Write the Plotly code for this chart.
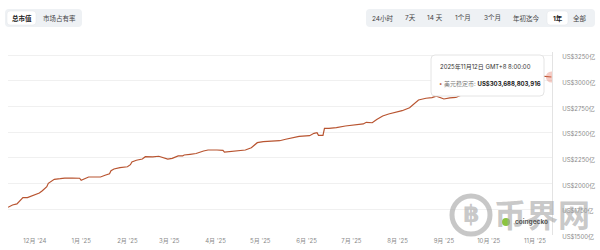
import plotly.graph_objects as go

# ---- data (market cap in 亿 USD) ----
dates = [
    "2024-11-13", "2024-11-16", "2024-11-19", "2024-11-21", "2024-11-23", "2024-11-26",
    "2024-11-29", "2024-12-02", "2024-12-04", "2024-12-06", "2024-12-09", "2024-12-10",
    "2024-12-12", "2024-12-14", "2024-12-18", "2024-12-21", "2024-12-26", "2024-12-31",
    "2025-01-01", "2025-01-04", "2025-01-06", "2025-01-09", "2025-01-14", "2025-01-17",
    "2025-01-20", "2025-01-21", "2025-01-23", "2025-01-27", "2025-02-01", "2025-02-03",
    "2025-02-04", "2025-02-07", "2025-02-11", "2025-02-13", "2025-02-18", "2025-02-22",
    "2025-02-26", "2025-02-28", "2025-03-03", "2025-03-07", "2025-03-10", "2025-03-11",
    "2025-03-15", "2025-03-19", "2025-03-24", "2025-03-27", "2025-04-02", "2025-04-06",
    "2025-04-07", "2025-04-13", "2025-04-19", "2025-04-21", "2025-04-25", "2025-04-29",
    "2025-05-03", "2025-05-08", "2025-05-14", "2025-05-18", "2025-05-23", "2025-05-27",
    "2025-06-03", "2025-06-06", "2025-06-08", "2025-06-09", "2025-06-12", "2025-06-13",
    "2025-06-16", "2025-06-21", "2025-06-27", "2025-07-03", "2025-07-09", "2025-07-11",
    "2025-07-15", "2025-07-18", "2025-07-22", "2025-07-26", "2025-07-30", "2025-08-04",
    "2025-08-09", "2025-08-13", "2025-08-15", "2025-08-20", "2025-08-24", "2025-08-27",
    "2025-09-01", "2025-09-05", "2025-09-09", "2025-09-14", "2025-09-20", "2025-09-26",
    "2025-10-02", "2025-10-08", "2025-10-14", "2025-10-20", "2025-10-26", "2025-11-01",
    "2025-11-06", "2025-11-10", "2025-11-11", "2025-11-12",
]
values = [
    1769, 1792, 1802, 1831, 1863, 1863,
    1882, 1899, 1909, 1931, 1970, 2003,
    2025, 2042, 2048, 2054, 2054, 2052,
    2032, 2052, 2064, 2064, 2064, 2081,
    2096, 2126, 2142, 2155, 2164, 2184,
    2210, 2227, 2239, 2262, 2259, 2266,
    2246, 2239, 2246, 2269, 2269, 2278,
    2285, 2293, 2317, 2327, 2327, 2324,
    2307, 2314, 2320, 2327, 2349, 2398,
    2408, 2412, 2417, 2431, 2450, 2460,
    2466, 2489, 2495, 2470, 2470, 2538,
    2538, 2544, 2560, 2573, 2580, 2596,
    2592, 2624, 2658, 2677, 2694, 2709,
    2738, 2787, 2813, 2830, 2836, 2850,
    2823, 2833, 2838, 2870, 2905, 2930,
    2975, 3010, 3035, 3045, 3055, 3060,
    3045, 3042, 3044, 3036.89,
]
series_name = "美元稳定币"
tooltip_date = "2025年11月12日 GMT+8 8:00:00"
tooltip_value = "US$303,688,803,916"

y_tickvals = [1500, 1750, 2000, 2250, 2500, 2750, 3000, 3250]
y_ticktext = ["US$1500亿", "US$1750亿", "US$2000亿", "US$2250亿",
              "US$2500亿", "US$2750亿", "US$3000亿", "US$3250亿"]
x_tickvals = ["2024-12-01", "2025-01-01", "2025-02-01", "2025-03-01", "2025-04-01",
              "2025-05-01", "2025-06-01", "2025-07-01", "2025-08-01", "2025-09-01",
              "2025-10-01", "2025-11-01"]
x_ticktext = ["12月 '24", "1月 '25", "2月 '25", "3月 '25", "4月 '25", "5月 '25",
              "6月 '25", "7月 '25", "8月 '25", "9月 '25", "10月 '25", "11月 '25"]
left_buttons = ["总市值", "市场占有率"]
right_buttons = ["24小时", "7天", "14 天", "1个月", "3个月", "年初迄今", "1年", "全部"]

# ---- layout geometry (pixels) ----
WIDTH, HEIGHT = 600, 250
ML, MR, MT, MB = 8, 48, 52, 15
PW = WIDTH - ML - MR
PH = HEIGHT - MT - MB
PLOT_BOTTOM = HEIGHT - MB

def fx(px):
    return (px - ML) / PW

def fy(py):
    return (PLOT_BOTTOM - py) / PH

def rrect(x0, y0, x1, y1, r):
    a, b = fx(x0), fx(x1)
    t, u = fy(y0), fy(y1)  # t top (larger), u bottom
    rx, ry = r / PW, r / PH
    return (f"M {a+rx},{t} L {b-rx},{t} Q {b},{t} {b},{t-ry} L {b},{u+ry} "
            f"Q {b},{u} {b-rx},{u} L {a+rx},{u} Q {a},{u} {a},{u+ry} "
            f"L {a},{t-ry} Q {a},{t} {a+rx},{t} Z")

def note(px, py, text, size, color, family=None, xanchor="center"):
    return dict(x=fx(px), y=fy(py), xref="paper", yref="paper", text=text,
                showarrow=False, xanchor=xanchor, yanchor="middle",
                font=dict(size=size, color=color, family=family or FONT))

FONT = "Inter, 'Noto Sans CJK SC', 'Noto Sans', sans-serif"
LINE = "#b85430"

fig = go.Figure()
fig.add_trace(go.Scatter(x=dates, y=values, mode="lines",
                         line=dict(color=LINE, width=1.2), hoverinfo="skip",
                         showlegend=False))
fig.add_trace(go.Scatter(x=[dates[-1]], y=[values[-1]], mode="markers",
                         marker=dict(size=11, color="rgba(226,110,90,0.35)",
                                     line=dict(width=0)),
                         hoverinfo="skip", showlegend=False))

shapes = []
annotations = []

# watermark
WM = "rgba(165,165,165,0.62)"
shapes.append(dict(type="circle", xref="paper", yref="paper",
                   x0=fx(452), x1=fx(490), y0=fy(234), y1=fy(196),
                   line=dict(color=WM, width=5),
                   fillcolor="rgba(0,0,0,0)", layer="above"))
annotations.append(note(471, 214, "<b>฿</b>", 24, WM, family="DejaVu Sans"))
annotations.append(note(542, 213, "<b>币界网</b>", 32, WM,
                        family="'Noto Sans CJK SC'"))
shapes.append(dict(type="circle", xref="paper", yref="paper",
                   x0=fx(502), x1=fx(510), y0=fy(226), y1=fy(218),
                   fillcolor="#8cc43f", line=dict(width=0), layer="above"))
annotations.append(note(513, 221.5, "<b>coingecko</b>", 6.5, "#555555",
                        xanchor="left"))

# tooltip
shapes.append(dict(type="path", xref="paper", yref="paper",
                   path=rrect(431, 55, 544, 96, 4), fillcolor="white",
                   line=dict(color="#e4e4e4", width=1), layer="above"))
annotations.append(note(438, 67, tooltip_date, 6, "#333333", xanchor="left"))
annotations.append(note(437, 84,
                        f"<span style='color:{LINE}'>•</span> "
                        f"<span style='color:#777777'>{series_name}:</span> "
                        f"<b>{tooltip_value}</b>", 6, "#222222", xanchor="left"))

# button groups
shapes.append(dict(type="path", xref="paper", yref="paper",
                   path=rrect(5, 9, 82, 27, 4), fillcolor="#eef1f4",
                   line=dict(width=0), layer="above"))
shapes.append(dict(type="path", xref="paper", yref="paper",
                   path=rrect(7, 11, 36, 25, 3), fillcolor="white",
                   line=dict(color="#e2e5e9", width=0.5), layer="above"))
left_centers = [21.5, 59.5]
for i, (lbl, cx) in enumerate(zip(left_buttons, left_centers)):
    annotations.append(note(cx, 18, f"<b>{lbl}</b>" if i == 0 else lbl, 6.5,
                            "#222222" if i == 0 else "#444444"))

shapes.append(dict(type="path", xref="paper", yref="paper",
                   path=rrect(366, 9, 595, 27, 4), fillcolor="#eef1f4",
                   line=dict(width=0), layer="above"))
shapes.append(dict(type="path", xref="paper", yref="paper",
                   path=rrect(547, 11, 568, 25, 3), fillcolor="white",
                   line=dict(color="#e2e5e9", width=0.5), layer="above"))
right_centers = [383, 410.5, 434.7, 463, 492, 526, 557.5, 580]
for lbl, cx in zip(right_buttons, right_centers):
    sel = lbl == "1年"
    annotations.append(note(cx, 18, f"<b>{lbl}</b>" if sel else lbl, 6.5,
                            "#222222" if sel else "#444444"))

fig.update_layout(
    width=WIDTH, height=HEIGHT,
    margin=dict(l=ML, r=MR, t=MT, b=MB, autoexpand=False),
    paper_bgcolor="white", plot_bgcolor="white",
    font=dict(family=FONT, size=6, color="#8a8a8a"),
    shapes=shapes, annotations=annotations,
    xaxis=dict(type="date", range=["2024-11-13", "2025-11-12 10:00"],
               tickvals=x_tickvals, ticktext=x_ticktext,
               showgrid=False, zeroline=False, showline=False, ticks="",
               tickfont=dict(size=6, color="#8a8a8a"), ticklabelstandoff=1),
    yaxis=dict(side="right", range=[1500, 3280], tickvals=y_tickvals,
               ticktext=y_ticktext, showgrid=True, gridcolor="#f0f0f0",
               gridwidth=1, zeroline=False, showline=True, linecolor="#e3e3e3",
               linewidth=1, ticks="", ticklabelstandoff=8, ticklabelshift=2,
               tickfont=dict(size=6, color="#8a8a8a")),
)

fig.write_html("out.html")
